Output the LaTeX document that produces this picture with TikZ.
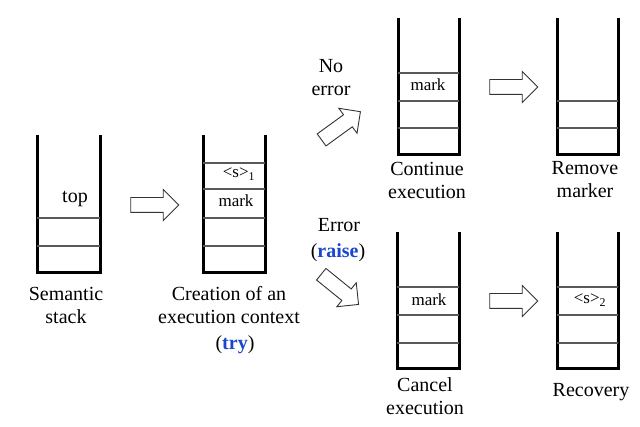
\documentclass[tikz,border=0pt]{standalone}
\usepackage{fontspec}
\setmainfont{Liberation Serif}
\usetikzlibrary{shapes.arrows}
\definecolor{kwblue}{RGB}{25,70,205}

\begin{document}
\begin{tikzpicture}[x=1pt,y=-1pt,
    wall/.style={line width=3pt},
    slot/.style={line width=1.2pt,black!65},
    blockarrow/.style={single arrow,draw=black!80,line width=0.9pt,minimum height=48pt,
        inner xsep=0pt,inner ysep=7pt,single arrow head extend=8pt,single arrow head indent=0pt},
    lbl/.style={align=center,font=\fontsize{20}{23}\selectfont},
    cell/.style={font=\fontsize{17}{20}\selectfont}]
    \useasboundingbox (0,0) rectangle (640,427);

    % Semantic stack
    \draw[wall] (37,135) -- (37,273) -- (100,273) -- (100,135);
    \draw[slot] (37,218) -- (100,218) (37,246) -- (100,246);
    \node[lbl] (top) at (75,199) {top};
    \node[lbl] (semantic) at (66,305) {Semantic\\stack};

    % try: push a marker
    \node[blockarrow] (push) at (151,205) {};

    % Stack with execution context
    \draw[wall] (203,135) -- (203,273) -- (265,273) -- (265,135);
    \draw[slot] (203,163) -- (265,163) (203,189) -- (265,189)
                (203,218) -- (265,218) (203,246) -- (265,246);
    \node[cell] (s1) at (239,174) {<s>\textsubscript{1}};
    \node[cell] (mark1) at (236,201) {mark};
    \node[lbl] (creation) at (229,305) {Creation of an\\execution context};
    \node[lbl] (try) at (235,345) {(\textcolor{kwblue}{\textbf{try}})};

    % No error branch
    \node[lbl] (noerror) at (331,78) {No\\error};
    \node[blockarrow,rotate=36] (up) at (338,128) {};

    \draw[wall] (398,18) -- (398,155) -- (459,155) -- (459,18);
    \draw[slot] (398,73) -- (459,73) (398,101) -- (459,101) (398,128) -- (459,128);
    \node[cell] (mark2) at (428,85) {mark};
    \node[lbl] (continue) at (427,180) {Continue\\execution};

    \node[blockarrow] (pop) at (510,87) {};

    \draw[wall] (557,18) -- (557,155) -- (618,155) -- (618,18);
    \draw[slot] (557,101) -- (618,101) (557,128) -- (618,128);
    \node[lbl] (remove) at (585,180) {Remove\\marker};

    % Error branch
    \node[lbl] (error) at (339,225) {Error};
    \node[lbl] (raise) at (338,253) {(\textcolor{kwblue}{\textbf{raise}})};
    \node[blockarrow,rotate=-39] (down) at (337,287) {};

    \draw[wall] (397,232) -- (397,369) -- (459,369) -- (459,232);
    \draw[slot] (397,287) -- (459,287) (397,315) -- (459,315) (397,343) -- (459,343);
    \node[cell] (mark3) at (429,300) {mark};
    \node[lbl] (cancel) at (425,396) {Cancel\\execution};

    \node[blockarrow] (unwind) at (510,301) {};

    \draw[wall] (557,232) -- (557,369) -- (618,369) -- (618,232);
    \draw[slot] (557,287) -- (618,287) (557,315) -- (618,315) (557,343) -- (618,343);
    \node[cell] (s2) at (590,300) {<s>\textsubscript{2}};
    \node[lbl] (recovery) at (591,392) {Recovery};
\end{tikzpicture}
\end{document}
